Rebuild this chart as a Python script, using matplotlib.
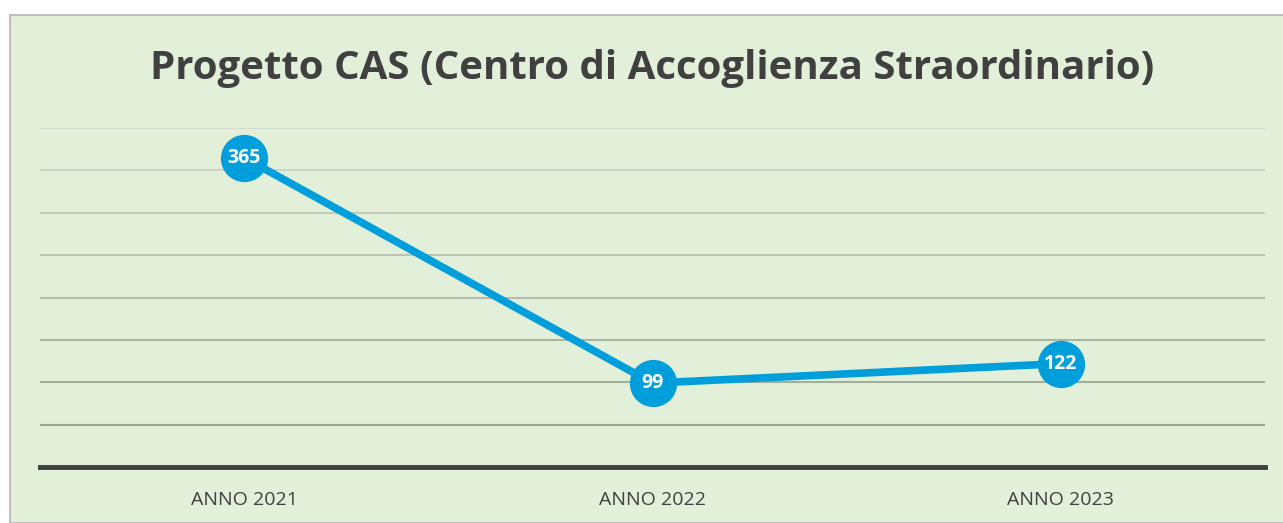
import matplotlib.pyplot as plt
from matplotlib.patches import Rectangle
from matplotlib.colors import to_rgb

# data
categories = ['ANNO 2021', 'ANNO 2022', 'ANNO 2023']
values = [365, 99, 122]
title = 'Progetto CAS (Centro di Accoglienza Straordinario)'

W, H = 1283, 523
fig = plt.figure(figsize=(W / 100, H / 100), dpi=100)
fig.patch.set_facecolor('white')

# green panel behind the chart
panel = Rectangle((10 / W, 0), 1 - 10 / W + 0.01, (H - 15) / H, transform=fig.transFigure,
                  facecolor='#E2F0DA', edgecolor='#BFBFBF', linewidth=1.5, zorder=-5)
fig.patches.append(panel)

ax = fig.add_axes([40 / W, (H - 467) / H, (1265 - 40) / W, (467 - 128) / H])
ax.set_zorder(2)
ax.set_facecolor('none')
x = list(range(len(categories)))
ax.plot(x, values, color='#009FDB', linewidth=5.5, marker='o', markersize=34,
        markeredgewidth=0, solid_capstyle='round', zorder=3, clip_on=False)
for xi, v in zip(x, values):
    ax.text(xi, v, str(v), ha='center', va='center', color='white', fontsize=14,
            fontweight='bold', family='Open Sans', zorder=4)

ax.set_xlim(-0.5, 2.5)
ax.set_ylim(0, 400)
ax.set_yticks(range(50, 401, 50))
ax.yaxis.grid(True, linewidth=1.5)
# gridlines fade from dark (bottom) to light (top)
light, dark = to_rgb('#D3DACE'), to_rgb('#9AA694')
glines = ax.get_ygridlines()
n = len(glines)
for i, gl in enumerate(glines):
    t = i / (n - 1)
    gl.set_color(tuple(d + (l - d) * t for d, l in zip(dark, light)))
ax.set_axisbelow(True)
ax.tick_params(left=False, labelleft=False, bottom=False)
ax.set_xticks(x)
ax.set_xticklabels(categories, fontsize=14, color='#404040', family='Open Sans')
ax.tick_params(axis='x', pad=14)
for s in ['left', 'right', 'top']:
    ax.spines[s].set_visible(False)
ax.spines['bottom'].set_color('#3F3F3F')
ax.spines['bottom'].set_linewidth(3.5)

fig.text(652 / W, 1 - 68 / H, title, ha='center', va='center', fontsize=29,
         fontweight='bold', color='#404040', family='Open Sans')

fig.savefig('out.png', dpi=100)
